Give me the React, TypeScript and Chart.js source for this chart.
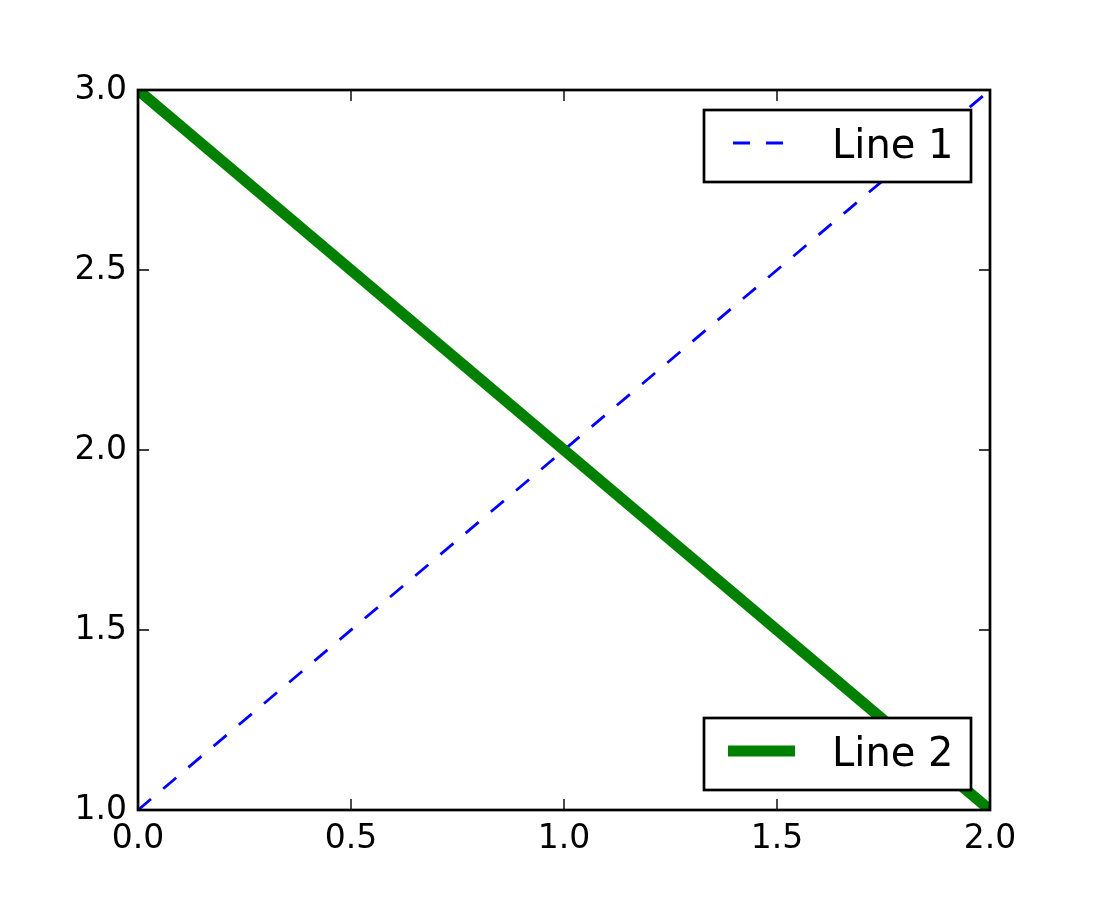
import React, { useEffect, useRef } from "react";
import { Chart, registerables } from "chart.js";

Chart.register(...registerables);

const xValues = [0, 1, 2];
const line1Values = [1, 2, 3];
const line2Values = [3, 2, 1];
const xTicks = [0, 0.5, 1, 1.5, 2];
const yTicks = [1, 1.5, 2, 2.5, 3];
const line1Label = "Line 1";
const line2Label = "Line 2";

const FONT = "'DejaVu Sans', sans-serif";

const framePlugin = {
  id: "framePlugin",
  afterDraw(chart: any) {
    const { ctx, chartArea } = chart;
    const { left, right, top, bottom } = chartArea;
    const xs = chart.scales.x;
    const ys = chart.scales.y;
    ctx.save();
    ctx.strokeStyle = "#000";
    ctx.lineWidth = 1.4;
    const tl = 11;
    for (const v of xTicks) {
      const px = xs.getPixelForValue(v);
      ctx.beginPath();
      ctx.moveTo(px, bottom);
      ctx.lineTo(px, bottom - tl);
      ctx.moveTo(px, top);
      ctx.lineTo(px, top + tl);
      ctx.stroke();
    }
    for (const v of yTicks) {
      const py = ys.getPixelForValue(v);
      ctx.beginPath();
      ctx.moveTo(left, py);
      ctx.lineTo(left + tl, py);
      ctx.moveTo(right, py);
      ctx.lineTo(right - tl, py);
      ctx.stroke();
    }
    ctx.lineWidth = 2.7;
    ctx.strokeRect(left, top, right - left, bottom - top);

    const ds = chart.data.datasets;
    const boxW = 267;
    const boxH = 72;
    const bx = right - 19 - boxW;
    const drawLegend = (by: number, d: any) => {
      ctx.fillStyle = "#fff";
      ctx.fillRect(bx, by, boxW, boxH);
      ctx.strokeStyle = "#000";
      ctx.lineWidth = 2.7;
      ctx.strokeRect(bx, by, boxW, boxH);
      ctx.strokeStyle = d.borderColor;
      ctx.lineWidth = d.borderWidth;
      ctx.setLineDash(d.borderDash || []);
      ctx.lineCap = "butt";
      ctx.beginPath();
      const sy = by + 33;
      if (d.borderDash && d.borderDash.length) {
        ctx.moveTo(bx + 29, sy);
      } else {
        ctx.moveTo(bx + 24, sy);
      }
      ctx.lineTo(bx + 91, sy);
      ctx.stroke();
      ctx.setLineDash([]);
      ctx.fillStyle = "#000";
      ctx.font = `40px ${FONT}`;
      ctx.textBaseline = "alphabetic";
      ctx.textAlign = "left";
      ctx.fillText(d.label, bx + 128, by + 48);
    };
    drawLegend(top + 20, ds[0]);
    drawLegend(bottom - 20 - boxH, ds[1]);
    ctx.restore();
  },
};

export default function App() {
  const ref = useRef<HTMLCanvasElement | null>(null);
  useEffect(() => {
    document.body.style.margin = "0";
    const canvas = ref.current!;
    const chart = new Chart(canvas, {
      type: "line",
      data: {
        datasets: [
          {
            label: line1Label,
            data: xValues.map((x, i) => ({ x, y: line1Values[i] })),
            borderColor: "#0000ff",
            borderWidth: 2.8,
            borderDash: [17, 16],
            pointRadius: 0,
            tension: 0,
            fill: false,
            clip: 0,
            order: 2,
          },
          {
            label: line2Label,
            data: xValues.map((x, i) => ({ x, y: line2Values[i] })),
            borderColor: "#008000",
            borderWidth: 11,
            pointRadius: 0,
            tension: 0,
            fill: false,
            clip: 0,
            order: 1,
          },
        ],
      },
      options: {
        animation: false,
        responsive: false,
        maintainAspectRatio: false,
        devicePixelRatio: 1,
        layout: { padding: { top: 90, right: 110, left: 0, bottom: 0 } },
        plugins: { legend: { display: false }, tooltip: { enabled: false } },
        scales: {
          x: {
            type: "linear",
            min: 0,
            max: 2,
            afterBuildTicks: (s: any) => {
              s.ticks = xTicks.map((v) => ({ value: v }));
            },
            afterFit: (s: any) => {
              s.height = 90;
            },
            grid: { display: false, drawTicks: false },
            border: { display: false },
            ticks: {
              color: "#000",
              padding: 10,
              font: { family: FONT, size: 33 },
              callback: (v: any) => Number(v).toFixed(1),
              maxRotation: 0,
              autoSkip: false,
            },
          },
          y: {
            type: "linear",
            min: 1,
            max: 3,
            afterBuildTicks: (s: any) => {
              s.ticks = yTicks.map((v) => ({ value: v }));
            },
            afterFit: (s: any) => {
              s.width = 138;
            },
            grid: { display: false, drawTicks: false },
            border: { display: false },
            ticks: {
              color: "#000",
              padding: 11,
              font: { family: FONT, size: 33 },
              callback: (v: any) => Number(v).toFixed(1),
              autoSkip: false,
            },
          },
        },
      },
      plugins: [framePlugin],
    });
    return () => chart.destroy();
  }, []);
  return (
    <div style={{ width: 1100, height: 900, background: "#fff" }}>
      <canvas ref={ref} width={1100} height={900} style={{ display: "block" }} />
    </div>
  );
}
